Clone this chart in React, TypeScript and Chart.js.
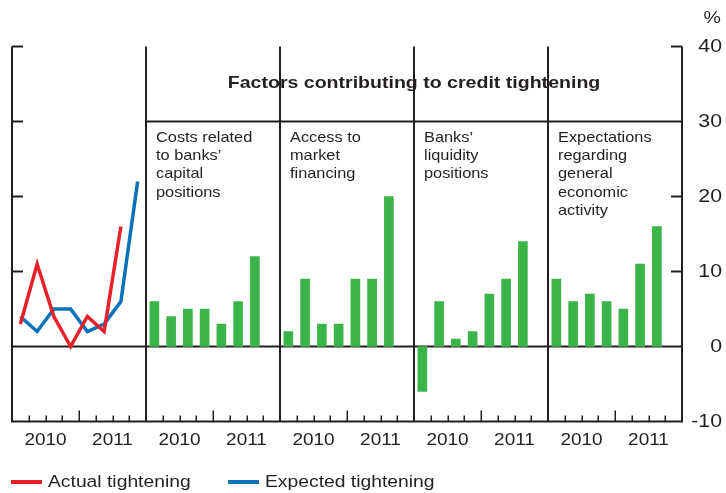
import { useEffect, useRef } from "react";
import { Chart, registerables } from "chart.js";

Chart.register(...registerables);

// ---- Data ----
const quarters = ["2010 Q1", "2010 Q2", "2010 Q3", "2010 Q4", "2011 Q1", "2011 Q2", "2011 Q3", "2011 Q4"];
const panelKeys = ["overall", "capital", "market", "liquidity", "economy"];
const yearLabels = ["2010", "2011"];
const yTickValues = [-10, 0, 10, 20, 30, 40];

const actualTightening = [3, 11, 4, 0, 4, 2, 16];
const expectedTightening = [4, 2, 5, 5, 2, 3, 6, 22];

const capitalCosts = [6, 4, 5, 5, 3, 6, 12];
const marketFinancing = [2, 9, 3, 3, 9, 9, 20];
const liquidityPositions = [-6, 6, 1, 2, 7, 9, 14];
const economicExpectations = [9, 6, 7, 6, 5, 11, 16];

const headerTitle = "Factors contributing to credit tightening";
const panelTitles = [
  ["Costs related", "to banks’", "capital", "positions"],
  ["Access to", "market", "financing"],
  ["Banks’", "liquidity", "positions"],
  ["Expectations", "regarding", "general", "economic", "activity"],
];
const legendLabels = ["Actual tightening", "Expected tightening"];
const unitLabel = "%";

// ---- Derived tables ----
const SLOTS = quarters.length;
const categories: string[] = [];
panelKeys.forEach((k) => quarters.forEach((q) => categories.push(`${k} ${q}`)));

function panelSeries(panel: number, values: number[]): (number | null)[] {
  const out: (number | null)[] = categories.map(() => null);
  values.forEach((v, i) => (out[panel * SLOTS + i] = v));
  return out;
}

const barSeries: (number | null)[] = categories.map(() => null);
[capitalCosts, marketFinancing, liquidityPositions, economicExpectations].forEach((vals, p) => {
  vals.forEach((v, i) => (barSeries[(p + 1) * SLOTS + i] = v));
});

const RED = "#e8202a";
const BLUE = "#0a72ba";
const GREEN = "#3bb54a";
const INK = "#231f20";
const FONT = "'Liberation Sans', Arial, sans-serif";
const STRETCH = 1.15;

function drawText(
  ctx: CanvasRenderingContext2D,
  text: string,
  x: number,
  y: number,
  size: number,
  align: CanvasTextAlign,
  sx: number = STRETCH,
  bold: boolean = false
) {
  ctx.save();
  ctx.font = `${bold ? "bold " : ""}${size}px ${FONT}`;
  ctx.textAlign = align;
  ctx.textBaseline = "middle";
  ctx.fillStyle = INK;
  ctx.translate(x, y);
  ctx.scale(sx, 1);
  ctx.fillText(text, 0, 0);
  ctx.restore();
}

const framePlugin = {
  id: "frame",
  beforeDatasetsDraw(chart: any) {
    const { ctx, chartArea: a, scales } = chart;
    const y = scales.y;
    const slotW = (a.right - a.left) / categories.length;
    const bx = (i: number) => a.left + i * slotW;
    ctx.save();
    ctx.strokeStyle = INK;
    ctx.lineWidth = 2;
    ctx.lineCap = "butt";
    ctx.beginPath();
    ctx.moveTo(a.left, a.top);
    ctx.lineTo(a.left, a.bottom);
    ctx.moveTo(a.right, a.top);
    ctx.lineTo(a.right, a.bottom + 1);
    ctx.moveTo(a.left - 1, a.bottom);
    ctx.lineTo(a.right + 1, a.bottom);
    const y0 = y.getPixelForValue(0);
    ctx.moveTo(a.left, y0);
    ctx.lineTo(a.right, y0);
    for (let p = 1; p < panelKeys.length; p++) {
      ctx.moveTo(bx(p * SLOTS), a.top);
      ctx.lineTo(bx(p * SLOTS), a.bottom);
    }
    const y30 = y.getPixelForValue(30);
    ctx.moveTo(bx(SLOTS), y30);
    ctx.lineTo(a.right, y30);
    yTickValues.forEach((v) => {
      const py = y.getPixelForValue(v);
      ctx.moveTo(a.left, py);
      ctx.lineTo(a.left + 11, py);
      ctx.moveTo(a.right, py);
      ctx.lineTo(a.right - 11, py);
    });
    ctx.stroke();
    ctx.lineWidth = 1.5;
    ctx.beginPath();
    for (let i = 1; i < categories.length; i++) {
      if (i % SLOTS === 0) continue;
      const len = i % SLOTS === SLOTS / 2 ? 11 : 6;
      const px = Math.round(bx(i)) + 0.25;
      ctx.moveTo(px, a.bottom);
      ctx.lineTo(px, a.bottom - len);
    }
    ctx.stroke();
    ctx.restore();
  },
  afterDraw(chart: any) {
    const { ctx, chartArea: a, scales } = chart;
    const y = scales.y;
    const slotW = (a.right - a.left) / categories.length;
    const bx = (i: number) => a.left + i * slotW;
    yTickValues.forEach((v) => {
      drawText(ctx, String(v), 722, y.getPixelForValue(v) + 0.5, 18.5, "right");
    });
    drawText(ctx, unitLabel, 721, 18, 17, "right");
    for (let p = 0; p < panelKeys.length; p++) {
      yearLabels.forEach((lab, k) => {
        drawText(ctx, lab, bx(p * SLOTS + 2 + k * 4), 440, 16.5, "center");
      });
    }
    drawText(ctx, headerTitle, (bx(SLOTS) + a.right) / 2, 83, 17, "center", STRETCH, true);
    const y30 = y.getPixelForValue(30);
    panelTitles.forEach((lines, p) => {
      lines.forEach((ln, j) => {
        drawText(ctx, ln, bx((p + 1) * SLOTS) + 10, y30 + 16 + j * 18.4, 14.6, "left", 1.12);
      });
    });
    const legendY = 482;
    const items = [
      { color: RED, x: 11, label: legendLabels[0] },
      { color: BLUE, x: 228, label: legendLabels[1] },
    ];
    items.forEach((it) => {
      ctx.save();
      ctx.strokeStyle = it.color;
      ctx.lineWidth = 4;
      ctx.beginPath();
      ctx.moveTo(it.x, legendY);
      ctx.lineTo(it.x + 31, legendY);
      ctx.stroke();
      ctx.restore();
      drawText(ctx, it.label, it.x + 37, legendY, 16.8, "left");
    });
  },
};

export default function App() {
  const ref = useRef<HTMLCanvasElement | null>(null);
  useEffect(() => {
    if (!ref.current) return;
    const chart = new Chart(ref.current, {
      type: "bar",
      data: {
        labels: categories,
        datasets: [
          {
            type: "line",
            label: legendLabels[0],
            data: panelSeries(0, actualTightening),
            borderColor: RED,
            backgroundColor: RED,
            borderWidth: 3.5,
            pointRadius: 0,
            tension: 0,
            spanGaps: false,
            order: 0,
          },
          {
            type: "line",
            label: legendLabels[1],
            data: panelSeries(0, expectedTightening),
            borderColor: BLUE,
            backgroundColor: BLUE,
            borderWidth: 3.5,
            pointRadius: 0,
            tension: 0,
            spanGaps: false,
            order: 1,
          },
          {
            type: "bar",
            label: "Factors",
            data: barSeries,
            backgroundColor: GREEN,
            borderWidth: 0,
            barThickness: 9,
            order: 2,
          },
        ],
      },
      options: {
        responsive: false,
        animation: false,
        devicePixelRatio: 1,
        layout: { padding: { left: 12, top: 46.5, right: 0, bottom: 0 } },
        plugins: {
          legend: { display: false },
          tooltip: { enabled: false },
          title: { display: false },
        },
        scales: {
          x: {
            type: "category",
            offset: true,
            grid: { display: false },
            border: { display: false },
            ticks: { display: false },
            afterFit: (s: any) => {
              s.height = 71.5;
            },
          },
          y: {
            position: "right",
            min: -10,
            max: 40,
            grid: { display: false },
            border: { display: false },
            ticks: { display: false, stepSize: 10 },
            afterFit: (s: any) => {
              s.width = 44;
            },
          },
        },
      },
      plugins: [framePlugin],
    } as any);
    return () => chart.destroy();
  }, []);
  return (
    <div style={{ position: "fixed", left: 0, top: 0, width: 726, height: 493, background: "#fff" }}>
      <canvas ref={ref} width={726} height={493} style={{ display: "block" }} />
    </div>
  );
}
